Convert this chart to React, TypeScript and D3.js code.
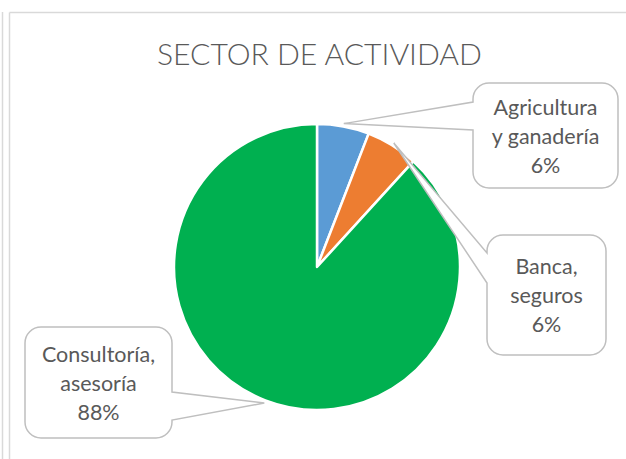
import * as d3 from 'd3';

// data
const categories = ['Agricultura y ganadería', 'Banca, seguros', 'Consultoría, asesoría'];
const categoryLines = [
    ['Agricultura', 'y ganadería'],
    ['Banca,', 'seguros'],
    ['Consultoría,', 'asesoría'],
];
const values = [1, 1, 15];
const colors = ['#5B9BD5', '#ED7D31', '#00B050'];
const title = 'SECTOR DE ACTIVIDAD';

const WIDTH = 626;
const HEIGHT = 459;
const CENTER = { x: 317, y: 267 };
const RADIUS = 143;
const FONT = 'Lato, "Open Sans", sans-serif';
const TEXT_COLOR = '#595959';

// callout boxes (layout only): box edges, side where the wedge leaves, wedge base along that side
const CALLOUTS = [
    { x0: 473, y0: 83, x1: 618, y1: 188, side: 'left', b0: 102, b1: 130 },
    { x0: 487, y0: 235, x1: 606, y1: 355, side: 'left', b0: 253, b1: 283 },
    { x0: 25, y0: 327, x1: 172, y1: 438, side: 'right', b0: 392, b1: 420 },
];

type Box = { x0: number; y0: number; x1: number; y1: number; side: string; b0: number; b1: number };

// rounded rectangle with a wedge pointing at (tx, ty)
const calloutPath = (b: Box, tx: number, ty: number, r = 16) => {
    const { x0, y0, x1, y1 } = b;
    let p = `M${x0 + r},${y0} H${x1 - r} A${r},${r} 0 0 1 ${x1},${y0 + r}`;
    if (b.side === 'right') p += ` V${b.b0} L${tx},${ty} L${x1},${b.b1}`;
    p += ` V${y1 - r} A${r},${r} 0 0 1 ${x1 - r},${y1} H${x0 + r} A${r},${r} 0 0 1 ${x0},${y1 - r}`;
    if (b.side === 'left') p += ` V${b.b1} L${tx},${ty} L${x0},${b.b0}`;
    p += ` V${y0 + r} A${r},${r} 0 0 1 ${x0 + r},${y0} Z`;
    return p;
};

export default function App() {
    const total = d3.sum(values);
    const pct = d3.format('.0%');

    const pie = d3.pie<number>().sort(null).value((d) => d);
    const arcs = pie(values);
    const arcGen = d3.arc<d3.PieArcDatum<number>>().innerRadius(0).outerRadius(RADIUS);
    const tipGen = d3.arc<d3.PieArcDatum<number>>().innerRadius(RADIUS * 1.02).outerRadius(RADIUS * 1.02);

    const lineH = 29;

    return (
        <svg width={WIDTH} height={HEIGHT} style={{ position: 'absolute', left: 0, top: 0, background: '#fff' }}>
            {/* frame lines */}
            <line x1={2.5} y1={12} x2={2.5} y2={HEIGHT} stroke="#d9d9d9" strokeWidth={1.5} />
            <line x1={9.5} y1={12.5} x2={9.5} y2={HEIGHT} stroke="#d9d9d9" strokeWidth={1.5} />
            <line x1={9.5} y1={12.5} x2={WIDTH} y2={12.5} stroke="#d9d9d9" strokeWidth={1.5} />

            <text x={319.5} y={65} textAnchor="middle" fontFamily={FONT} fontWeight={300} fontSize={30} fill={TEXT_COLOR} textLength={325} lengthAdjust="spacingAndGlyphs">
                {title}
            </text>

            <g transform={`translate(${CENTER.x},${CENTER.y})`}>
                {arcs.map((a, i) => (
                    <path key={categories[i]} d={arcGen(a)!} fill={colors[i]} stroke="#fff" strokeWidth={2.5} strokeLinejoin="round" />
                ))}
            </g>

            {arcs.map((a, i) => {
                const [tx, ty] = tipGen.centroid(a);
                const box = CALLOUTS[i];
                const cx = (box.x0 + box.x1) / 2;
                const cy = (box.y0 + box.y1) / 2;
                const lines = [...categoryLines[i], pct(values[i] / total)];
                return (
                    <g key={categories[i]}>
                        <path d={calloutPath(box, tx + CENTER.x, ty + CENTER.y)} fill="#fff" stroke="#bfbfbf" strokeWidth={1.5} />
                        <text textAnchor="middle" fontFamily={FONT} fontSize={21.5} fill={TEXT_COLOR}>
                            {lines.map((l, j) => (
                                <tspan key={j} x={cx} y={cy + 8 + (j - 1) * lineH}>
                                    {l}
                                </tspan>
                            ))}
                        </text>
                    </g>
                );
            })}
        </svg>
    );
}
